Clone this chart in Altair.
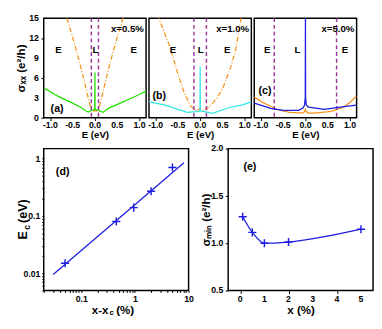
import altair as alt
import pandas as pd

# ---------------- data ----------------
# panel (a)  x = 0.5 %
a_orange_E = [-0.75, -0.63, -0.46, -0.32, -0.21, -0.13, -0.08, -0.04, 0.0, 0.04, 0.08, 0.13, 0.21, 0.32, 0.46, 0.63, 0.75]
a_orange_s = [17.8, 15.0, 11.2, 7.7, 4.7, 2.4, 1.2, 1.0, 1.05, 1.0, 1.2, 2.4, 4.7, 7.7, 11.2, 15.0, 17.8]
a_main_E = [-1.15, -0.9, -0.79, -0.5, -0.3, -0.2, -0.15, -0.08, -0.02, -0.004, 0.0, 0.004, 0.02, 0.08, 0.18, 0.3, 0.57, 0.8, 1.0, 1.15]
a_main_s = [4.5, 3.5, 3.1, 2.2, 1.5, 1.0, 0.85, 1.1, 1.2, 1.2, 6.8, 1.2, 1.2, 1.1, 0.8, 1.4, 2.2, 2.9, 3.5, 4.0]

# panel (b)  x = 1.0 %
b_orange_E = [-1.0, -0.93, -0.68, -0.5, -0.36, -0.21, -0.08, 0.0, 0.08, 0.21, 0.36, 0.5, 0.69, 0.8, 0.92, 1.0]
b_orange_s = [17.0, 15.0, 10.7, 6.6, 3.8, 1.7, 1.0, 1.4, 1.0, 1.7, 2.8, 4.3, 7.7, 10.3, 15.0, 17.0]
b_main_E = [-1.15, -0.78, -0.5, -0.29, -0.1, -0.02, -0.004, 0.0, 0.004, 0.02, 0.1, 0.28, 0.64, 0.93, 1.15]
b_main_s = [2.4, 1.9, 1.25, 0.8, 0.9, 1.0, 1.1, 7.7, 1.1, 1.0, 0.9, 0.65, 1.5, 1.9, 2.4]

# panel (c)  x = 5.0 %
c_orange_E = [-1.15, -0.93, -0.64, -0.36, -0.07, -0.02, 0.0, 0.02, 0.07, 0.2, 0.57, 0.86, 1.0, 1.15]
c_orange_s = [3.1, 2.2, 1.25, 0.8, 0.7, 0.9, 1.25, 0.9, 0.7, 0.7, 0.93, 1.6, 2.3, 3.3]
c_main_E = [-1.15, -0.78, -0.5, -0.15, -0.05, -0.02, -0.004, 0.0, 0.004, 0.02, 0.07, 0.43, 0.78, 1.15]
c_main_s = [2.2, 1.4, 1.1, 1.1, 1.5, 1.9, 3.0, 16.0, 3.0, 1.9, 1.6, 1.25, 1.6, 1.9]

# critical energies (dashed lines)
ec_a = [-0.08, 0.08]
ec_b = [-0.14, 0.14]
ec_c = [-0.7, 0.7]

# region labels
a_lab_E, a_lab_t = [-0.82, 0.01, 0.87], ["E", "L", "E"]
b_lab_E, b_lab_t = [-0.61, 0.01, 0.61], ["E", "L", "E"]
c_lab_E, c_lab_t = [-0.86, -0.18, 0.89], ["E", "L", "E"]

# tick labels
top_x_ticks = [-1.0, -0.5, 0.0, 0.5, 1.0]
top_x_text = ["-1.0", "-0.5", "0.0", "0.5", "1.0"]
top_y_ticks = [0, 3, 6, 9, 12, 15]
top_y_text = ["0", "3", "6", "9", "12", "15"]
e_x_ticks = [0, 1, 2, 3, 4, 5]
e_x_text = ["0", "1", "2", "3", "4", "5"]
e_y_ticks = [0.5, 1.0, 1.5, 2.0]
e_y_text = ["0.5", "1.0", "1.5", "2.0"]

# panel (d)
d_x = [0.05, 0.45, 0.95, 2.0, 5.0]
d_E = [0.015, 0.08, 0.14, 0.27, 0.7]
d_fit_x = [0.03, 8.2]
d_fit_E = [0.0095, 0.85]

# panel (e)
e_x = [0.1, 0.5, 1.0, 2.0, 5.0]
e_s = [1.28, 1.115, 1.0, 1.013, 1.148]

# ---------------- style ----------------
FONT = "Liberation Sans"
ORANGE = "#f7941d"
PURPLE = "#9b3a9b"
BLUE = "#1e1ee0"
PLUS = "M-1,0L1,0M0,-1L0,1"

TW, TH = 106, 103


def xlabels(vals, texts, field, ypix):
    return alt.Chart(pd.DataFrame({field: vals, "t": texts})).mark_text(
        font=FONT, fontSize=9, fontWeight="bold", color="black", baseline="middle").encode(
        x=alt.X(f"{field}:Q"), y=alt.value(ypix), text="t:N")


def ylabels(vals, texts, field, xpix):
    return alt.Chart(pd.DataFrame({field: vals, "t": texts})).mark_text(
        font=FONT, fontSize=9, fontWeight="bold", color="black", baseline="middle",
        align="right").encode(
        y=alt.Y(f"{field}:Q"), x=alt.value(xpix), text="t:N")


def top_panel(oE, os_, odash, mE, ms, mcolor, ec, labE, labT, xlab, tag, tagE, tagS, show_y):
    xs = alt.Scale(domain=[-1.15, 1.15], nice=False, zero=False)
    ys = alt.Scale(domain=[0, 15], nice=False)
    xaxis = alt.Axis(values=top_x_ticks, labels=False, title="E (eV)",
                     titleFontSize=10, titleFontWeight="bold", tickSize=3, titlePadding=9,
                     domain=False, grid=False, titleFont=FONT)
    if show_y:
        yaxis = alt.Axis(values=top_y_ticks, labels=False, title="σₓₓ (e²/h)",
                         titleFontSize=12, titleFontWeight="bold", tickSize=3, titlePadding=13,
                         domain=False, grid=False, titleFont=FONT)
    else:
        yaxis = None

    od = pd.DataFrame({"E": oE, "s": os_})
    md = pd.DataFrame({"E": mE, "s": ms})
    ed = pd.DataFrame({"E": ec})
    ld = pd.DataFrame({"E": labE, "s": [10.2] * len(labE), "t": labT})

    x = alt.X("E:Q", scale=xs, axis=xaxis)
    y = alt.Y("s:Q", scale=ys, axis=yaxis)

    oline = alt.Chart(od).mark_line(color=ORANGE, strokeWidth=1.3, clip=True,
                                    strokeDash=odash if odash else [1, 0]).encode(x=x, y=y)
    mline = alt.Chart(md).mark_line(color=mcolor, strokeWidth=1.3, clip=True).encode(x=x, y=y)
    rules = alt.Chart(ed).mark_rule(color=PURPLE, strokeDash=[4, 3], strokeWidth=1.5).encode(x="E:Q")
    labs = alt.Chart(ld).mark_text(font=FONT, fontSize=10, fontWeight="bold", color="black").encode(
        x="E:Q", y="s:Q", text="t:N")
    xl = alt.Chart(pd.DataFrame({"E": [1.1], "s": [13.4], "t": [xlab]})).mark_text(
        font=FONT, fontSize=10, fontWeight="bold", align="right", color="black").encode(
        x="E:Q", y="s:Q", text="t:N")
    tg = alt.Chart(pd.DataFrame({"E": [tagE], "s": [tagS], "t": [tag]})).mark_text(
        font=FONT, fontSize=11, fontWeight="bold", color="black").encode(
        x="E:Q", y="s:Q", text="t:N")
    layers = [oline, rules, mline, labs, xl, tg, xlabels(top_x_ticks, top_x_text, "E", TH + 8)]
    if show_y:
        layers.append(ylabels(top_y_ticks, top_y_text, "s", -5))
        # invisible anchor that sets the left extent of the top row
        spacer = alt.Chart(pd.DataFrame({"t": ["."]})).mark_text(
            fontSize=10, opacity=0).encode(x=alt.value(-34), y=alt.value(TH / 2), text="t:N")
        layers.append(spacer)
    return alt.layer(*layers).properties(width=TW, height=TH)


pa = top_panel(a_orange_E, a_orange_s, [5, 2, 1, 2], a_main_E, a_main_s, "#22e000", ec_a,
               a_lab_E, a_lab_t, "x=0.5%", "(a)", -0.85, 1.3, True)
pb = top_panel(b_orange_E, b_orange_s, [5, 2, 1, 2], b_main_E, b_main_s, "#33e6e6", ec_b,
               b_lab_E, b_lab_t, "x=1.0%", "(b)", -0.92, 3.3, False)
pc = top_panel(c_orange_E, c_orange_s, None, c_main_E, c_main_s, BLUE, ec_c,
               c_lab_E, c_lab_t, "x=5.0%", "(c)", -0.91, 4.0, False)

# ---------------- panel (d) ----------------
DW, DH = 150, 147
d_ticks_x = [0.02, 0.03, 0.04, 0.05, 0.06, 0.07, 0.08, 0.09, 0.1, 0.2, 0.3, 0.4, 0.5, 0.6, 0.7, 0.8, 0.9,
             1, 2, 3, 4, 5, 6, 7, 8, 9, 10]
d_ticks_y = [0.005, 0.006, 0.007, 0.008, 0.009, 0.01, 0.02, 0.03, 0.04, 0.05, 0.06, 0.07, 0.08, 0.09,
             0.1, 0.2, 0.3, 0.4, 0.5, 0.6, 0.7, 0.8, 0.9, 1]
lab_expr = "datum.value==0.01?'0.01':datum.value==0.1?'0.1':datum.value==1?'1':datum.value==10?'10':''"
dx = alt.X("x:Q", scale=alt.Scale(type="log", domain=[0.02, 10], nice=False),
           axis=alt.Axis(values=d_ticks_x, labelExpr=lab_expr, title=None, tickSize=2,
                         labelFontSize=9, labelFontWeight="bold", labelFont=FONT,
                         domain=False, grid=False, labelPadding=2, labelFlush=False,
                         labelOverlap=False))
dy = alt.Y("E:Q", scale=alt.Scale(type="log", domain=[0.005, 1.5], nice=False),
           axis=alt.Axis(values=d_ticks_y, labelExpr=lab_expr, title=None, tickSize=2,
                         labelFontSize=9, labelFontWeight="bold", labelFont=FONT,
                         domain=False, grid=False, labelPadding=2, labelFlush=False,
                         labelOverlap=False))
dfit = alt.Chart(pd.DataFrame({"x": d_fit_x, "E": d_fit_E})).mark_line(
    color=BLUE, strokeWidth=1.3).encode(x=dx, y=dy)
dpts = alt.Chart(pd.DataFrame({"x": d_x, "E": d_E})).mark_point(
    shape=PLUS, size=70, color=BLUE, strokeWidth=1.5, filled=False, opacity=1).encode(x=dx, y=dy)
dtag = alt.Chart(pd.DataFrame({"x": [0.045], "E": [0.59], "t": ["(d)"]})).mark_text(
    font=FONT, fontSize=11, fontWeight="bold", color="black").encode(x="x:Q", y="E:Q", text="t:N")
# axis titles with subscript c, built from text pieces
d_yt_big = alt.Chart(pd.DataFrame({"t": ["E", "(eV)"], "py": [DH * 0.61, DH * 0.44]})).mark_text(
    font=FONT, fontWeight="bold", angle=270, color="black", baseline="middle", fontSize=13).encode(
    x=alt.value(-21), y=alt.Y("py:Q", scale=None), text="t:N")
d_yt_sub = alt.Chart(pd.DataFrame({"t": ["c"], "py": [DH * 0.555]})).mark_text(
    font=FONT, fontWeight="bold", angle=270, color="black", baseline="middle", fontSize=9).encode(
    x=alt.value(-17), y=alt.Y("py:Q", scale=None), text="t:N")
d_xt_r = alt.Chart(pd.DataFrame({"t": ["x-x"], "px": [67]})).mark_text(
    font=FONT, fontWeight="bold", color="black", baseline="middle", align="right", fontSize=12).encode(
    x=alt.X("px:Q", scale=None), y=alt.value(DH + 20), text="t:N")
d_xt_c = alt.Chart(pd.DataFrame({"t": ["c"], "px": [68]})).mark_text(
    font=FONT, fontWeight="bold", color="black", baseline="middle", align="left", fontSize=8).encode(
    x=alt.X("px:Q", scale=None), y=alt.value(DH + 23), text="t:N")
d_xt_l = alt.Chart(pd.DataFrame({"t": ["(%)"], "px": [75]})).mark_text(
    font=FONT, fontWeight="bold", color="black", baseline="middle", align="left", fontSize=12).encode(
    x=alt.X("px:Q", scale=None), y=alt.value(DH + 20), text="t:N")
pd_ = alt.layer(dfit, dpts, dtag, d_yt_big, d_yt_sub, d_xt_r, d_xt_c, d_xt_l).properties(
    width=DW, height=DH)

# ---------------- panel (e) ----------------
EW, EH = 150, 147
ex = alt.X("x:Q", scale=alt.Scale(domain=[-0.5, 5.5], nice=False),
           axis=alt.Axis(values=e_x_ticks, labels=False, title="x (%)", tickSize=3,
                         titleFont=FONT, titleFontSize=12, titleFontWeight="bold",
                         domain=False, grid=False, titlePadding=11))
ey = alt.Y("s:Q", scale=alt.Scale(domain=[0.5, 2.0], nice=False),
           axis=alt.Axis(values=e_y_ticks, labels=False, title="σₘᵢₙ (e²/h)", tickSize=3,
                         titleFont=FONT, titleFontSize=12, titleFontWeight="bold",
                         domain=False, grid=False, titlePadding=13))
eline = alt.Chart(pd.DataFrame({"x": e_x, "s": e_s})).mark_line(
    color=BLUE, strokeWidth=1.3, interpolate="monotone").encode(x=ex, y=ey)
epts = alt.Chart(pd.DataFrame({"x": e_x, "s": e_s})).mark_point(
    shape=PLUS, size=70, color=BLUE, strokeWidth=1.5, filled=False, opacity=1).encode(x=ex, y=ey)
etag = alt.Chart(pd.DataFrame({"x": [0.4], "s": [1.8], "t": ["(e)"]})).mark_text(
    font=FONT, fontSize=11, fontWeight="bold", color="black").encode(x="x:Q", y="s:Q", text="t:N")
pe = alt.layer(eline, epts, etag,
               xlabels(e_x_ticks, e_x_text, "x", EH + 9),
               ylabels(e_y_ticks, e_y_text, "s", -5)).properties(width=EW, height=EH)

top = alt.hconcat(pa, pb, pc, spacing=0)
bottom = alt.hconcat(pd_, pe, spacing=4)

chart = alt.vconcat(top, bottom, spacing=3).properties(
    padding={"left": 0, "top": 0, "right": 0, "bottom": 0},
    background="white",
).configure_view(stroke="black", strokeWidth=1.5).configure_axis(
    tickColor="black", labelColor="black", titleColor="black"
)

chart.save("out.html", embed_options={"renderer": "svg", "actions": False})
